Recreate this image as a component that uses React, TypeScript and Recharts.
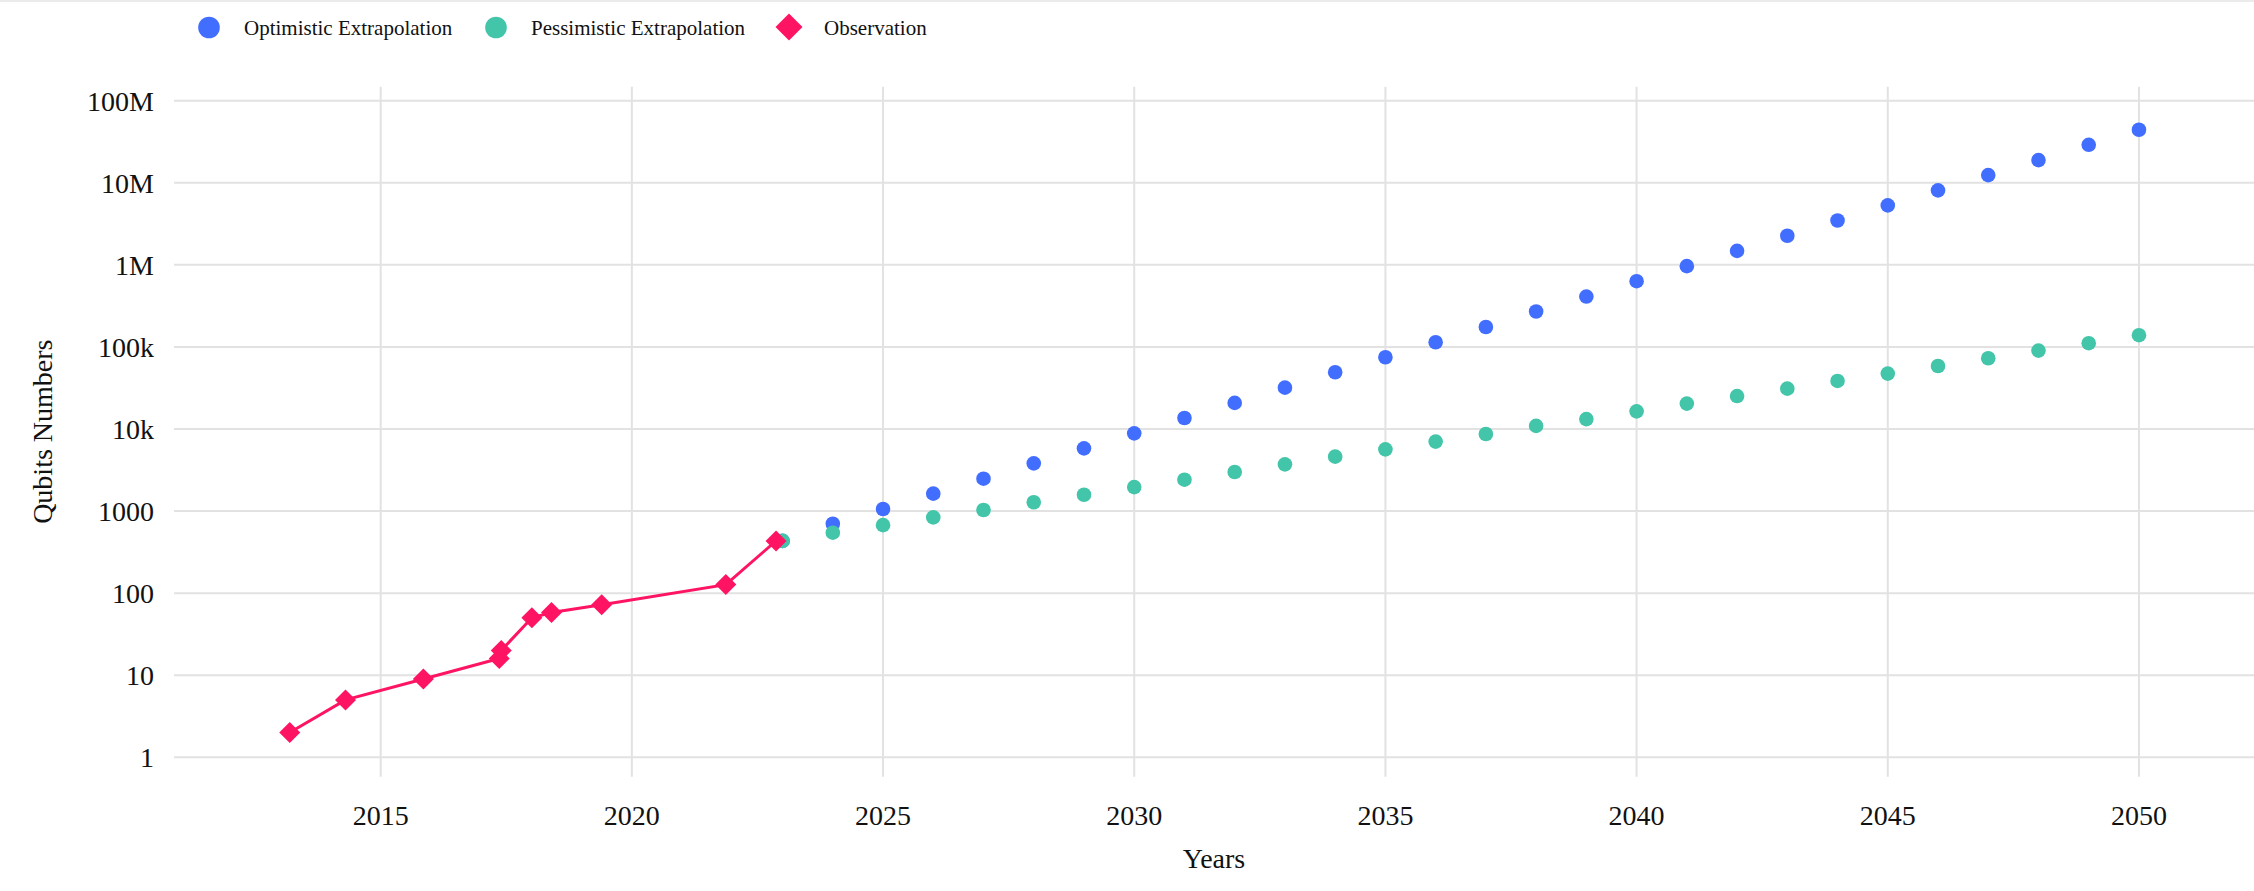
import { ComposedChart, Scatter, XAxis, YAxis, CartesianGrid, Label } from "recharts";

const FONT = "'Liberation Serif', 'Times New Roman', serif";
const BLUE = "#426eff";
const GREEN = "#42c5a9";
const PINK = "#ff1464";
const GRID = "#e2e2e2";

// observed hardware milestones
const obsYears = [2013.19, 2014.3, 2015.85, 2017.36, 2017.4, 2018.01, 2018.4, 2019.4, 2021.87, 2022.87];
const obsQubits = [2, 5, 9, 16, 20, 50, 58, 72, 127, 433];

// extrapolations
const extraYears = [
  2023, 2024, 2025, 2026, 2027, 2028, 2029, 2030, 2031, 2032, 2033, 2034, 2035, 2036,
  2037, 2038, 2039, 2040, 2041, 2042, 2043, 2044, 2045, 2046, 2047, 2048, 2049, 2050,
];
const optimistic = [
  433, 700, 1060, 1630, 2480, 3810, 5810, 8850, 13600, 20800, 31900, 49100, 74800, 114000,
  175000, 270000, 411000, 632000, 964000, 1480000, 2260000, 3470000, 5300000, 8070000,
  12400000, 18900000, 29000000, 44300000,
];
const pessimistic = [
  433, 545, 674, 837, 1030, 1280, 1580, 1960, 2410, 2990, 3710, 4600, 5650, 7020, 8690,
  10900, 13200, 16400, 20400, 25200, 31000, 38500, 47300, 58600, 72800, 90200, 111000, 139000,
];

const xTicks = [2015, 2020, 2025, 2030, 2035, 2040, 2045, 2050];
const yTicks = [1, 10, 100, 1000, 1e4, 1e5, 1e6, 1e7, 1e8];
const yTickLabels = ["1", "10", "100", "1000", "10k", "100k", "1M", "10M", "100M"];

const optData = extraYears.map((x, i) => ({ x, y: optimistic[i] }));
const pesData = extraYears.map((x, i) => ({ x, y: pessimistic[i] }));
const obsData = obsYears.map((x, i) => ({ x, y: obsQubits[i] }));

const dot = (color: string) => (p: any) => <circle cx={p.cx} cy={p.cy} r={7.3} fill={color} />;

const diamond = (p: any) => {
  const s = 10.5;
  return (
    <polygon
      points={`${p.cx},${p.cy - s} ${p.cx + s},${p.cy} ${p.cx},${p.cy + s} ${p.cx - s},${p.cy}`}
      fill={PINK}
    />
  );
};

function LegendBar() {
  const txt = { fontFamily: FONT, fontSize: 21, fill: "#111" };
  return (
    <svg width={2254} height={60} style={{ position: "absolute", left: 0, top: 0 }}>
      <rect x={0} y={0} width={2254} height={2} fill="#ebebeb" />
      <circle cx={209} cy={27.5} r={10.8} fill={BLUE} />
      <text x={244} y={35} {...txt}>Optimistic Extrapolation</text>
      <circle cx={496} cy={27.5} r={10.8} fill={GREEN} />
      <text x={531} y={35} {...txt}>Pessimistic Extrapolation</text>
      <polygon points="789,13.5 802.5,27 789,40.5 775.5,27" fill={PINK} />
      <text x={824} y={35} {...txt}>Observation</text>
    </svg>
  );
}

export default function App() {
  const tick = { fontFamily: FONT, fontSize: 28, fill: "#111" };
  return (
    <div style={{ position: "absolute", left: 0, top: 0, width: 2254, height: 891, background: "#fff" }}>
      <ComposedChart width={2254} height={891} margin={{ top: 86.7, right: 0, bottom: 0, left: 0 }}>
        <CartesianGrid stroke={GRID} strokeWidth={2} syncWithTicks />
        <XAxis
          type="number"
          dataKey="x"
          domain={[2010.886, 2052.29]}
          ticks={xTicks}
          allowDataOverflow
          axisLine={false}
          tickLine={false}
          tickSize={0}
          tickMargin={28}
          height={114.3}
          tick={tick}
        >
          <Label
            content={() => (
              <text x={1214} y={868} textAnchor="middle" fontFamily={FONT} fontSize={28} fill="#111">
                Years
              </text>
            )}
          />
        </XAxis>
        <YAxis
          type="number"
          dataKey="y"
          scale="log"
          domain={[0.58, 1.481e8]}
          ticks={yTicks}
          allowDataOverflow
          axisLine={false}
          tickLine={false}
          tickSize={0}
          tickMargin={20}
          width={174}
          tick={tick}
          tickFormatter={(v: number) => yTickLabels[yTicks.indexOf(v)] ?? String(v)}
        >
          <Label
            content={() => (
              <text
                x={52}
                y={431.7}
                textAnchor="middle"
                transform="rotate(-90, 52, 431.7)"
                fontFamily={FONT}
                fontSize={28}
                fill="#111"
              >
                Qubits Numbers
              </text>
            )}
          />
        </YAxis>
        <Scatter name="Optimistic Extrapolation" data={optData} shape={dot(BLUE)} isAnimationActive={false} />
        <Scatter name="Pessimistic Extrapolation" data={pesData} shape={dot(GREEN)} isAnimationActive={false} />
        <Scatter
          name="Observation"
          data={obsData}
          line={{ stroke: PINK, strokeWidth: 3 }}
          shape={diamond}
          isAnimationActive={false}
        />
      </ComposedChart>
      <LegendBar />
    </div>
  );
}
